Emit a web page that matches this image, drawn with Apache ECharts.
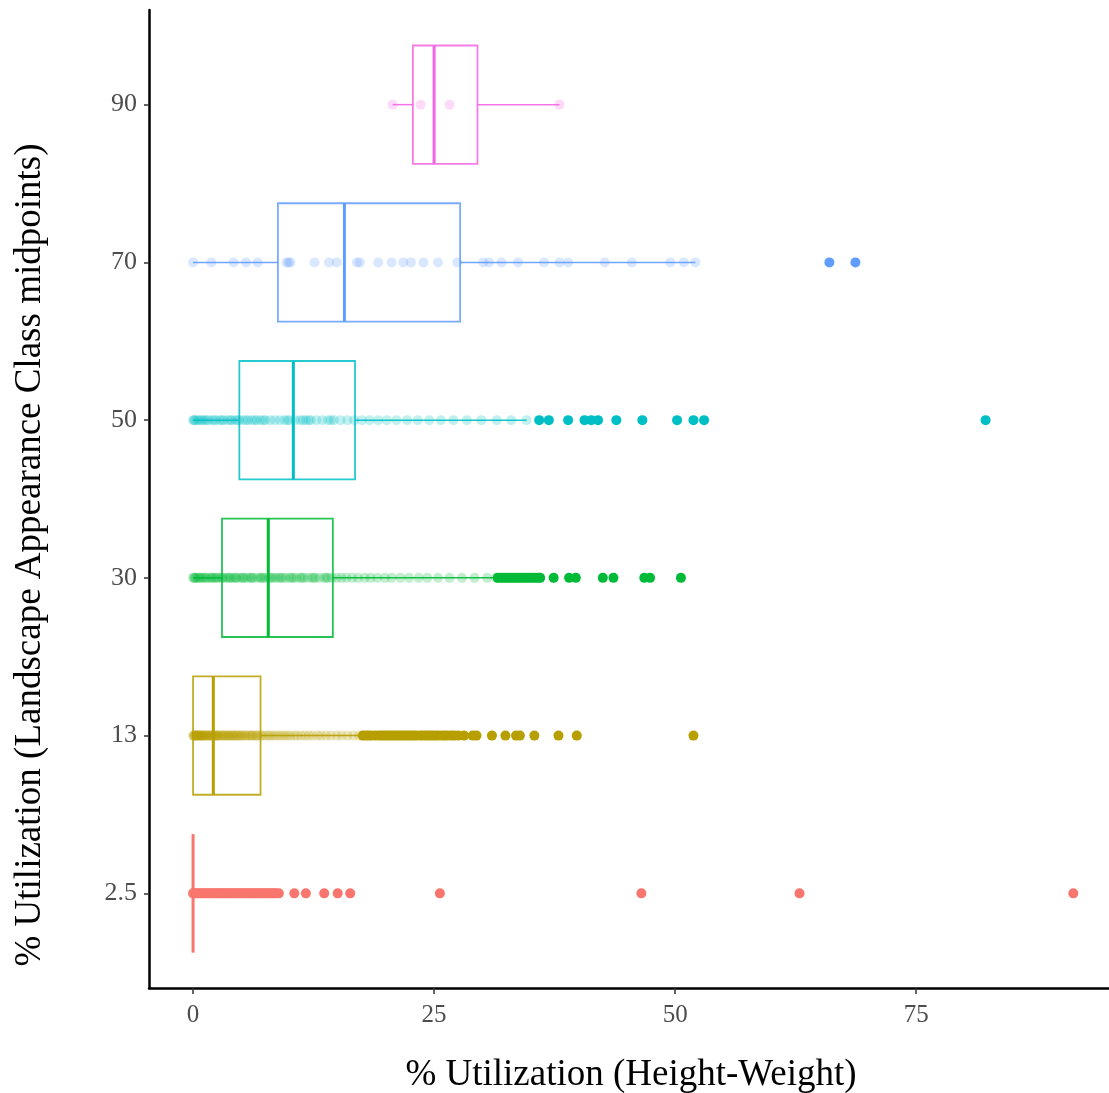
<html>
<head>
<meta charset="utf-8">
<script src="https://cdn.jsdelivr.net/npm/echarts@6.0.0/dist/echarts.min.js"></script>
<style>
  html, body { margin: 0; padding: 0; background: #fff; }
</style>
</head>
<body>
<div id="main" style="width: 1109px; height: 1093px;"></div>

<script type="text/javascript">

// categories, bottom to top
var categories = ['2.5', '13', '30', '50', '70', '90'];
var colors = ['#F8766D', '#B79F00', '#00BA38', '#00BFC4', '#619CFF', '#F564E3'];
var xTicks = [0, 25, 50, 75];

// box stats: [low whisker, q1, median, q3, high whisker]
var box2_5 = [0, 0, 0, 0, 0];
var box13 = [0, 0, 2.1, 7.0, 17.3];
var box30 = [0, 3.0, 7.8, 14.5, 31.4];
var box50 = [0, 4.8, 10.4, 16.8, 34.6];
var box70 = [0, 8.8, 15.7, 27.7, 52.1];
var box90 = [20.7, 22.8, 25.0, 29.5, 38.0];

// raw observations inside the whiskers (drawn faint)
var faint2_5 = [0, 0, 0, 0, 0, 0, 0, 0];
var faint13 = [0, 0.1, 0.2, 0.3, 0.4, 0.5, 0.6, 0.7, 0.8, 0.9, 1.0, 1.1, 1.2, 1.4, 1.5, 1.6, 1.7, 1.9,
  2.0, 2.1, 2.2, 2.4, 2.5, 2.6, 2.8, 3.0, 3.1, 3.3, 3.5, 3.6, 3.8, 4.0, 4.1, 4.3, 4.5, 4.7, 4.9,
  5.1, 5.3, 5.5, 5.8, 6.0, 6.2, 6.5, 6.7, 7.0, 7.2, 7.5, 7.8, 8.0, 8.3, 8.6, 8.9, 9.2, 9.5, 9.8,
  10.1, 10.5, 10.8, 11.2, 11.6, 12.0, 12.4, 12.9, 13.3, 13.8, 14.3, 14.9, 15.4, 16.0, 16.6, 17.2,
  0.1, 0.3, 0.5, 0.8, 1.1, 1.3, 1.8, 2.3, 2.7, 3.2, 3.7, 4.2, 4.6, 5.0, 5.6, 6.1, 6.6];
var faint30 = [0, 0.2, 0.3, 0.6, 0.8, 1.1, 1.4, 1.7, 2.0, 2.2, 2.5, 2.8, 3.1, 3.4, 3.6, 3.9, 4.2,
  4.5, 4.8, 5.1, 5.4, 5.7, 6.0, 6.3, 6.7, 7.0, 7.3, 7.6, 7.9, 8.3, 8.6, 8.9, 9.3, 9.6, 10.0, 10.4,
  10.7, 11.1, 11.5, 11.9, 12.3, 12.7, 13.1, 13.6, 14.0, 14.4, 14.9, 15.4, 15.9, 16.5, 17.1, 17.8,
  18.4, 19.1, 19.9, 20.6, 21.5, 22.4, 23.4, 24.3, 25.4, 26.6, 27.9, 29.2, 30.5, 31.4,
  0.1, 0.5, 0.9, 1.3, 1.9, 2.4, 3.0, 3.8, 4.4, 5.2, 6.1, 7.1, 8.1, 9.1, 10.2, 11.3, 12.5, 13.8];
var faint50 = [0, 0.2, 0.4, 0.8, 1.2, 1.6, 2.0, 2.4, 2.8, 3.2, 3.6, 4.0, 4.4, 4.8, 5.2, 5.7, 6.1,
  6.6, 7.0, 7.5, 8.0, 8.5, 9.0, 9.5, 10.0, 10.6, 11.1, 11.7, 12.2, 12.8, 13.4, 14.0, 14.6, 15.3,
  16.0, 16.7, 17.5, 18.3, 19.2, 20.1, 21.1, 22.2, 23.3, 24.5, 25.7, 27.0, 28.4, 29.9, 31.5, 33.0, 34.6,
  0.1, 0.6, 1.0, 1.4, 2.2, 3.0, 3.9, 4.6, 5.5, 6.4, 7.3, 9.8, 11.4, 12.0, 14.3];
var faint70 = [0, 1.9, 4.2, 5.5, 6.7, 9.7, 9.9, 10.1, 12.6, 14.1, 14.9, 17.0, 17.3, 19.2, 20.6,
  21.8, 22.6, 23.9, 25.4, 27.4, 30.1, 30.7, 32.0, 33.7, 36.4, 38.0, 38.9, 42.7, 45.5, 49.5, 50.9, 52.1];
var faint90 = [20.7, 23.6, 26.6, 38.0];

// outliers (drawn solid)
var out2_5 = [0.2, 0.4, 0.6, 0.8, 1.0, 1.2, 1.4, 1.6, 1.8, 2.0, 2.2, 2.4, 2.6, 2.8, 3.0, 3.2,
  3.4, 3.6, 3.8, 4.0, 4.2, 4.4, 4.6, 4.8, 5.0, 5.2, 5.4, 5.6, 5.8, 6.0, 6.2, 6.4, 6.6, 6.8, 7.0,
  7.2, 7.4, 7.6, 7.8, 8.0, 8.2, 8.4, 8.6, 8.9, 10.5, 11.7, 13.6, 15.0, 16.3,
  25.6, 46.5, 62.9, 91.3];
var out13 = [17.6, 17.9, 18.2, 18.5, 18.9, 19.3, 19.6, 19.9, 20.2, 20.5, 20.8, 21.1, 21.4, 21.7,
  22.0, 22.3, 22.6, 22.9, 23.2, 23.6, 23.9, 24.2, 24.5, 24.8, 25.1, 25.4, 25.8, 26.1, 26.4, 26.8,
  27.1, 27.5, 28.1, 29.0, 29.4, 31.0, 32.4, 33.5, 33.9, 35.4, 37.9, 39.8, 51.9];
var out30 = [31.6, 31.9, 32.2, 32.5, 32.8, 33.1, 33.4, 33.7, 34.0, 34.3, 34.6, 34.9, 35.2, 35.5, 35.8, 36.0,
  37.4, 39.0, 39.7, 42.5, 43.6, 46.8, 47.4, 50.6];
var out50 = [35.9, 36.9, 38.9, 40.6, 41.3, 42.0, 43.9, 46.6, 50.2, 51.9, 53.0, 82.2];
var out70 = [66.0, 68.7];
var out90 = [];

var boxes = [box2_5, box13, box30, box50, box70, box90];
var faint = [faint2_5, faint13, faint30, faint50, faint70, faint90];
var outliers = [out2_5, out13, out30, out50, out70, out90];

var chartDom = document.getElementById('main');
var myChart = echarts.init(chartDom);

var serif = '"Liberation Serif", "Times New Roman", serif';

function renderBox(params, api) {
  var cat = api.value(0);
  var lo = api.coord([api.value(1), cat]);
  var q1 = api.coord([api.value(2), cat]);
  var md = api.coord([api.value(3), cat]);
  var q3 = api.coord([api.value(4), cat]);
  var hi = api.coord([api.value(5), cat]);
  var h = api.size([0, 0.75])[1];
  var c = colors[cat];
  return {
    type: 'group',
    children: [
      { type: 'line', shape: { x1: lo[0], y1: lo[1], x2: q1[0], y2: q1[1] },
        style: { stroke: c, lineWidth: 1.5, opacity: 0.9 } },
      { type: 'line', shape: { x1: q3[0], y1: q3[1], x2: hi[0], y2: hi[1] },
        style: { stroke: c, lineWidth: 1.5, opacity: 0.9 } },
      { type: 'rect', shape: { x: q1[0], y: q1[1] - h / 2, width: q3[0] - q1[0], height: h },
        style: { fill: 'none', stroke: c, lineWidth: 1.8, opacity: 0.85 } },
      { type: 'line', shape: { x1: md[0], y1: md[1] - h / 2, x2: md[0], y2: md[1] + h / 2 },
        style: { stroke: c, lineWidth: 3 } }
    ]
  };
}

var series = [];
var boxData = [];
for (var i = 0; i < categories.length; i++) {
  boxData.push([i].concat(boxes[i]));
}
series.push({
  type: 'custom',
  renderItem: renderBox,
  data: boxData,
  encode: { x: [1, 2, 3, 4, 5], y: 0 },
  z: 3
});

for (var i = 0; i < categories.length; i++) {
  series.push({
    type: 'scatter',
    symbolSize: 10,
    data: faint[i].map(function (v) { return [v, i]; }),
    itemStyle: { color: colors[i], opacity: 0.24 },
    z: 2
  });
  series.push({
    type: 'scatter',
    symbolSize: 10,
    data: outliers[i].map(function (v) { return [v, i]; }),
    itemStyle: { color: colors[i], opacity: 1 },
    z: 4
  });
}

var option = {
  animation: false,
  backgroundColor: '#fff',
  grid: { left: 149, right: 0, top: 10, bottom: 105 },
  xAxis: {
    type: 'value',
    min: -4.57,
    max: 95,
    splitLine: { show: false },
    axisLine: { onZero: false, lineStyle: { color: '#000', width: 2.5 } },
    axisTick: { customValues: xTicks, length: 6, lineStyle: { color: '#333', width: 1.5 } },
    axisLabel: { customValues: xTicks, color: '#4d4d4d', fontFamily: serif, fontSize: 25, margin: 15 }
  },
  yAxis: {
    type: 'value',
    min: -0.6,
    max: 5.6,
    splitLine: { show: false },
    axisLine: { onZero: false, lineStyle: { color: '#000', width: 2.5 } },
    axisTick: { customValues: [0, 1, 2, 3, 4, 5], length: 5, lineStyle: { color: '#333', width: 1.5 } },
    axisLabel: {
      customValues: [0, 1, 2, 3, 4, 5],
      color: '#4d4d4d', fontFamily: serif, fontSize: 26, margin: 12,
      formatter: function (v) { return categories[Math.round(v)]; }
    }
  },
  graphic: [
    {
      type: 'text', x: 631, y: 1075,
      style: { text: '% Utilization (Height-Weight)', font: '37px ' + serif, fill: '#000',
        textAlign: 'center', textVerticalAlign: 'middle' }
    },
    {
      type: 'text', x: 30, y: 555, rotation: Math.PI / 2,
      style: { text: '% Utilization (Landscape Appearance Class midpoints)', font: '37px ' + serif,
        fill: '#000', textAlign: 'center', textVerticalAlign: 'middle' }
    }
  ],
  series: series
};

option && myChart.setOption(option);

</script>
</body>
</html>
